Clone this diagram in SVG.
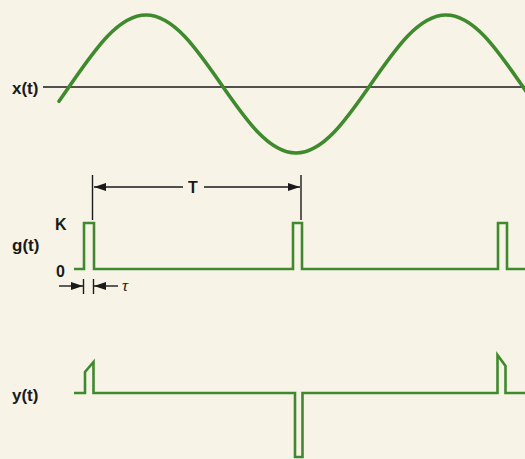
<svg xmlns="http://www.w3.org/2000/svg" width="525" height="459" viewBox="0 0 525 459">
  <style>
    .lbl { font-family: "Liberation Sans", Arial, sans-serif; font-weight: bold; font-size: 17px; fill: #1a1a1a; }
    .sm { font-family: "Liberation Sans", Arial, sans-serif; font-weight: bold; font-size: 16px; fill: #1a1a1a; }
    .tau { font-family: "Liberation Serif", "Times New Roman", serif; font-style: italic; font-size: 17px; fill: #1a1a1a; }
    .wave { fill: none; stroke: #3f8a2d; stroke-width: 3.6; stroke-linecap: round; stroke-linejoin: round; }
    .pulse { fill: none; stroke: #3f8a2d; stroke-width: 2.6; stroke-linejoin: miter; }
    .axis { fill: none; stroke: #1a1a1a; stroke-width: 1.3; }
    .dim { fill: none; stroke: #1a1a1a; stroke-width: 1.4; }
  </style>
  <defs>
    <marker id="ah" viewBox="0 0 12 8" refX="12" refY="4" markerWidth="12" markerHeight="8" markerUnits="userSpaceOnUse" orient="auto">
      <path d="M0,0 L12,4 L0,8 Z" fill="#1a1a1a"/>
    </marker>
  </defs>
  <rect width="525" height="459" fill="#f7f4e7"/>

  <g id="signal-x">
    <text class="lbl" x="12" y="94">x(t)</text>
    <line class="axis" x1="43" y1="87" x2="525" y2="87"/>
    <path class="wave" d="M59,101.2 C63,95.6 67,89.8 71,84 C95.46,48.65 118.86,15 146,15 C173.14,15 196.54,48.65 221,84 C245.46,119.35 268.86,153 296,153 C323.14,153 346.54,119.35 371,84 C395.46,48.65 418.86,15 446,15 C473.14,15 496.54,48.65 521,84 C524,88.3 527,92.6 530,97"/>
  </g>

  <g id="signal-g">
    <text class="lbl" x="12" y="251">g(t)</text>
    <text class="sm" x="55" y="230">K</text>
    <text class="sm" x="56" y="277">0</text>
    <path class="pulse" d="M74,269 H84 V223 H94 V269 H293 V223 H302 V269 H498 V223 H507 V269 H526"/>
  </g>

  <g id="signal-y">
    <text class="lbl" x="12" y="401">y(t)</text>
    <path class="pulse" d="M74,393 H85 V372 L93.5,362 V393 H295 V457 H302.5 V393 H497.5 V355 L505.5,366 V393 H526"/>
  </g>

  <g id="connectors">
    <line class="dim" x1="92.5" y1="175" x2="92.5" y2="220"/>
    <line class="dim" x1="301" y1="175" x2="301" y2="220"/>
    <line class="dim" x1="183" y1="187" x2="94" y2="187" marker-end="url(#ah)"/>
    <line class="dim" x1="204" y1="187" x2="300" y2="187" marker-end="url(#ah)"/>
    <text class="sm" x="193" y="193" text-anchor="middle">T</text>

    <line class="dim" x1="83.5" y1="279" x2="83.5" y2="294"/>
    <line class="dim" x1="93.5" y1="279" x2="93.5" y2="294"/>
    <line class="dim" x1="59" y1="286" x2="83" y2="286" marker-end="url(#ah)"/>
    <line class="dim" x1="118" y1="286" x2="94" y2="286" marker-end="url(#ah)"/>
    <text class="tau" x="122" y="291">τ</text>
  </g>
</svg>
